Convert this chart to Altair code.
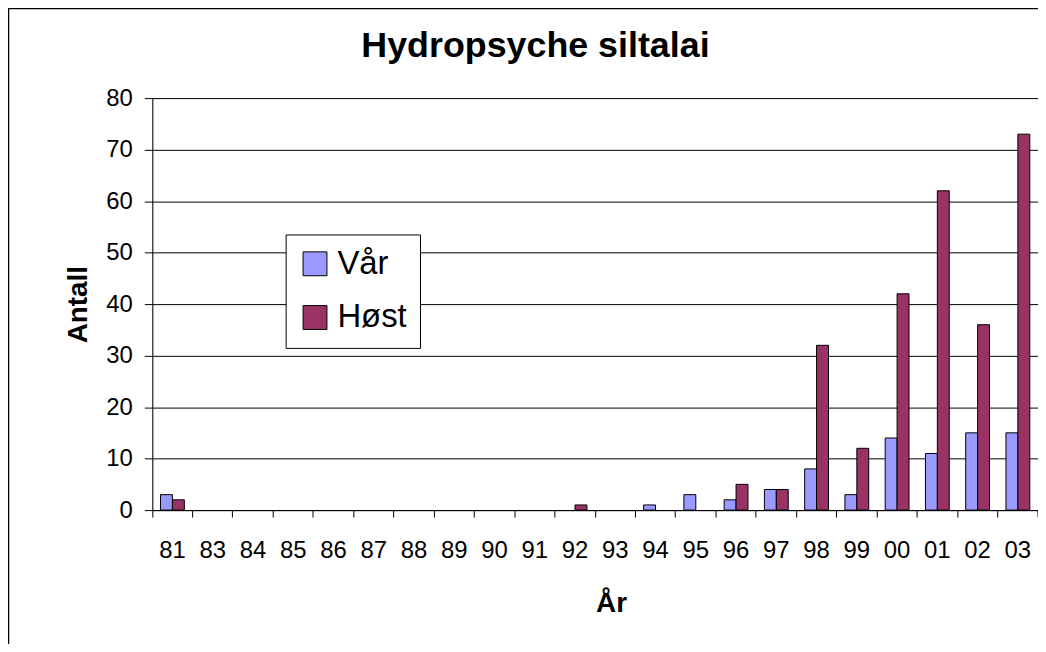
import altair as alt
import pandas as pd

years = ["81", "83", "84", "85", "86", "87", "88", "89", "90", "91", "92",
         "93", "94", "95", "96", "97", "98", "99", "00", "01", "02", "03"]
vaar = [3, 0, 0, 0, 0, 0, 0, 0, 0, 0, 0, 0, 1, 3, 2, 4, 8, 3, 14, 11, 15, 15]
host = [2, 0, 0, 0, 0, 0, 0, 0, 0, 0, 1, 0, 0, 0, 5, 4, 32, 12, 42, 62, 36, 73]
series = ["Vår", "Høst"]
colors = ["#9999FF", "#993366"]

rows = []
for i, y in enumerate(years):
    rows.append({"year": y, "serie": series[0], "antall": vaar[i]})
    rows.append({"year": y, "serie": series[1], "antall": host[i]})
df = pd.DataFrame(rows)
FONT = "Liberation Sans, Arial"

xscale = alt.Scale(domain=years, paddingInner=0, paddingOuter=0)

bars = alt.Chart(df).transform_filter(alt.datum.antall > 0).mark_bar(
    stroke="black", strokeWidth=1).encode(
    x=alt.X("year:N", scale=xscale, title="År",
            axis=alt.Axis(labelAngle=0, ticks=True, tickSize=7, tickColor="black",
                          bandPosition=0, labelFontSize=24,
                          labelFont=FONT, labelColor="black", labelPadding=41,
                          labelBaseline="alphabetic", domainColor="black",
                          titleFont=FONT, titleFontSize=28, titleFontWeight="bold",
                          titleColor="black", titleX=461, titleY=102,
                          titleAlign="center", titleBaseline="alphabetic", grid=False)),
    xOffset=alt.XOffset("serie:N", scale=alt.Scale(domain=series, paddingOuter=0.69, paddingInner=0)),
    y=alt.Y("antall:Q", scale=alt.Scale(domain=[0, 80]), title="Antall",
            axis=alt.Axis(values=list(range(0, 81, 10)), tickSize=8, tickColor="black",
                          domainColor="black", labelFontSize=24, labelFont=FONT,
                          labelColor="black", labelPadding=12, gridColor="black",
                          gridWidth=1, titleFont=FONT, titleFontSize=28,
                          titleFontWeight="bold", titleColor="black", titleAngle=270,
                          titleX=-66, titleY=207, titleAlign="center",
                          titleBaseline="alphabetic")),
    color=alt.Color("serie:N", scale=alt.Scale(domain=series, range=colors),
                    legend=alt.Legend(title=None, orient="none", legendX=134, legendY=137,
                                      padding=13, strokeColor="black", fillColor="white",
                                      symbolType="square", symbolSize=576,
                                      symbolStrokeColor="black", symbolStrokeWidth=1,
                                      labelFontSize=33, labelFont=FONT, labelColor="black",
                                      labelOffset=6, rowPadding=20, cornerRadius=0)),
)

end_tick = alt.Chart(pd.DataFrame({"a": [0]})).mark_rule(color="black", strokeWidth=1).encode(
    x=alt.value(890), y=alt.value(414), y2=alt.value(421))

frame = alt.Chart(pd.DataFrame({"a": [0]})).mark_rect(
    fillOpacity=0, stroke="black", strokeWidth=1.5).encode(
    x=alt.value(-144.5), x2=alt.value(3000), y=alt.value(-90), y2=alt.value(3000))

chart = alt.layer(bars, end_tick, frame).properties(
    width=890, height=414,
    title=alt.Title("Hydropsyche siltalai", font=FONT, fontSize=36, fontWeight="bold",
                    color="black", anchor="middle", dx=-60, offset=-85,
                    baseline="alphabetic"),
    autosize=alt.AutoSizeParams(type="none"),
    padding={"left": 145, "top": 89, "right": 0, "bottom": 133},
).configure_view(stroke="#808080", strokeWidth=1).configure(background="white")

chart.save("out.html", embed_options={"renderer": "svg", "actions": False})
